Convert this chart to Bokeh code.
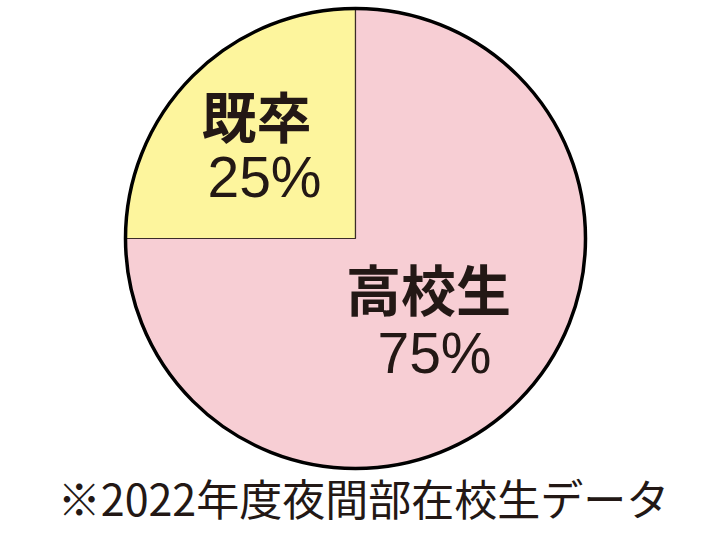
import math
from bokeh.plotting import figure
from bokeh.models import Range1d, ColumnDataSource
from bokeh.core.properties import value
from bokeh.embed import file_html
from bokeh.resources import INLINE

# ---- data ----
categories = ["既卒", "高校生"]
percents = [25, 75]
colors = ["#FDF59D", "#F7CED4"]
caption = "※2022年度夜間部在校生データ"

# ---- layout (image-pixel coordinates, y flipped) ----
W, H = 712, 528
def Y(img_y):
    return H - img_y

cx, cy, r = 355, Y(238), 230

# angles: start at 90 deg, counter-clockwise
starts, ends = [], []
acc = math.pi / 2
for v in percents:
    starts.append(acc)
    acc += v / 100 * 2 * math.pi
    ends.append(acc)

src = ColumnDataSource(dict(start=starts, end=ends, color=colors, cat=categories))

p = figure(width=W, height=H, output_backend="svg", toolbar_location=None,
           x_range=Range1d(0, W), y_range=Range1d(0, H),
           min_border=0, outline_line_color=None)
p.axis.visible = False
p.grid.visible = False
p.background_fill_color = "white"
p.border_fill_color = "white"

p.wedge(x=cx, y=cy, radius=r, start_angle="start", end_angle="end",
        fill_color="color", line_color="#3b2c28", line_width=1.2, source=src)
p.circle(x=[cx], y=[cy], radius=r, fill_color=None, line_color="#000000", line_width=3.5)

ink = "#231815"
# label positions (image pixels)
name_pos = [(256, 113), (428, 286)]
pct_pos = [(264, 176), (434, 352)]
p.text(x=[x for x, _ in name_pos], y=[Y(y) for _, y in name_pos], text=categories,
       text_font=value("Noto Sans CJK JP"), text_font_style="bold",
       text_font_size="55px", text_color=ink, text_align="center", text_baseline="middle")
p.text(x=[x for x, _ in pct_pos], y=[Y(y) for _, y in pct_pos],
       text=[f"{v}%" for v in percents],
       text_font=value("Liberation Sans"), text_font_size="57px",
       text_color=ink, text_align="center", text_baseline="middle")
p.text(x=[363], y=[Y(527.5)], text=[caption], text_font=value("Noto Sans CJK JP"),
       text_font_size="43px", text_color=ink, text_align="center", text_baseline="bottom")

open("out.html", "w").write(file_html(p, INLINE))
